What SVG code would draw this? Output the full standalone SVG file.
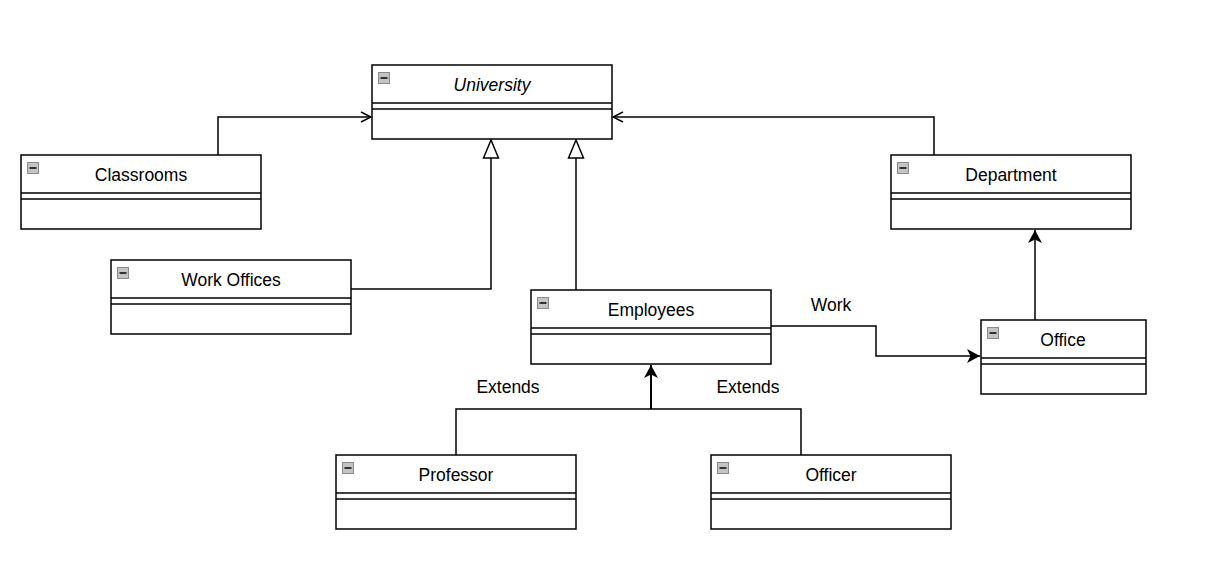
<svg xmlns="http://www.w3.org/2000/svg" width="1217" height="585" viewBox="0 0 1217 585">
<defs>
<style>
.box{fill:#fff;stroke:#000;stroke-width:1.5}
.sep{stroke:#000;stroke-width:1.5}
.t{font-family:"Liberation Sans",Arial,sans-serif;font-size:17.5px;fill:#000;text-anchor:middle}
.e{fill:none;stroke:#000;stroke-width:1.5}
.ico{fill:#c4c4c4;stroke:#8a8a8a;stroke-width:1}
.dash{stroke:#333;stroke-width:2}
</style>
<marker id="open" viewBox="0 0 12 12" refX="11" refY="6" markerWidth="12" markerHeight="12" markerUnits="userSpaceOnUse" orient="auto">
<path d="M1,1 L11,6 L1,11" fill="none" stroke="#000" stroke-width="1.5"/>
</marker>
<marker id="tri" viewBox="0 0 20 18" refX="19" refY="9" markerWidth="20" markerHeight="18" markerUnits="userSpaceOnUse" orient="auto">
<path d="M1,1.5 L19,9 L1,16.5 Z" fill="#fff" stroke="#000" stroke-width="1.5"/>
</marker>
<marker id="fill" viewBox="0 0 14 14" refX="13" refY="7" markerWidth="14" markerHeight="14" markerUnits="userSpaceOnUse" orient="auto">
<path d="M0,0 L13,7 L0,14 L3.5,7 Z" fill="#000"/>
</marker>
<g id="icon"><rect class="ico" x="0.5" y="0.5" width="11" height="11"/><line class="dash" x1="2.5" y1="6" x2="9.5" y2="6"/></g>
</defs>
<rect width="1217" height="585" fill="#fff"/>

<g id="connectors">
<polyline class="e" points="218,155 218,117 371,117" marker-end="url(#open)"/>
<polyline class="e" points="934,155 934,117 613,117" marker-end="url(#open)"/>
<polyline class="e" points="351,289 491,289 491,140" marker-end="url(#tri)"/>
<polyline class="e" points="576,290 576,140" marker-end="url(#tri)"/>
<polyline class="e" points="771,326 876,326 876,356 980,356" marker-end="url(#fill)"/>
<polyline class="e" points="1035,320 1035,230" marker-end="url(#fill)"/>
<polyline class="e" points="456,455 456,409 651,409"/>
<polyline class="e" points="801,455 801,409 651,409"/>
<polyline class="e" style="stroke-width:2" points="651,409 651,365" marker-end="url(#fill)"/>
<text class="t" x="508" y="393">Extends</text>
<text class="t" x="748" y="393">Extends</text>
<text class="t" x="831" y="311">Work</text>
</g>

<g id="University">
<rect class="box" x="372" y="65" width="240" height="74"/>
<line class="sep" x1="372" y1="103" x2="612" y2="103"/>
<line class="sep" x1="372" y1="109" x2="612" y2="109"/>
<use href="#icon" x="378" y="72"/>
<text class="t" x="492" y="91" font-style="italic">University</text>
</g>

<g id="Classrooms">
<rect class="box" x="21" y="155" width="240" height="74"/>
<line class="sep" x1="21" y1="193" x2="261" y2="193"/>
<line class="sep" x1="21" y1="199" x2="261" y2="199"/>
<use href="#icon" x="27" y="162"/>
<text class="t" x="141" y="181">Classrooms</text>
</g>

<g id="WorkOffices">
<rect class="box" x="111" y="260" width="240" height="74"/>
<line class="sep" x1="111" y1="298" x2="351" y2="298"/>
<line class="sep" x1="111" y1="304" x2="351" y2="304"/>
<use href="#icon" x="117" y="267"/>
<text class="t" x="231" y="286">Work Offices</text>
</g>

<g id="Employees">
<rect class="box" x="531" y="290" width="240" height="74"/>
<line class="sep" x1="531" y1="328" x2="771" y2="328"/>
<line class="sep" x1="531" y1="334" x2="771" y2="334"/>
<use href="#icon" x="537" y="297"/>
<text class="t" x="651" y="316">Employees</text>
</g>

<g id="Department">
<rect class="box" x="891" y="155" width="240" height="74"/>
<line class="sep" x1="891" y1="193" x2="1131" y2="193"/>
<line class="sep" x1="891" y1="199" x2="1131" y2="199"/>
<use href="#icon" x="897" y="162"/>
<text class="t" x="1011" y="181">Department</text>
</g>

<g id="Office">
<rect class="box" x="981" y="320" width="165" height="74"/>
<line class="sep" x1="981" y1="358" x2="1146" y2="358"/>
<line class="sep" x1="981" y1="364" x2="1146" y2="364"/>
<use href="#icon" x="987" y="327"/>
<text class="t" x="1063" y="346">Office</text>
</g>

<g id="Professor">
<rect class="box" x="336" y="455" width="240" height="74"/>
<line class="sep" x1="336" y1="493" x2="576" y2="493"/>
<line class="sep" x1="336" y1="499" x2="576" y2="499"/>
<use href="#icon" x="342" y="462"/>
<text class="t" x="456" y="481">Professor</text>
</g>

<g id="Officer">
<rect class="box" x="711" y="455" width="240" height="74"/>
<line class="sep" x1="711" y1="493" x2="951" y2="493"/>
<line class="sep" x1="711" y1="499" x2="951" y2="499"/>
<use href="#icon" x="717" y="462"/>
<text class="t" x="831" y="481">Officer</text>
</g>
</svg>
